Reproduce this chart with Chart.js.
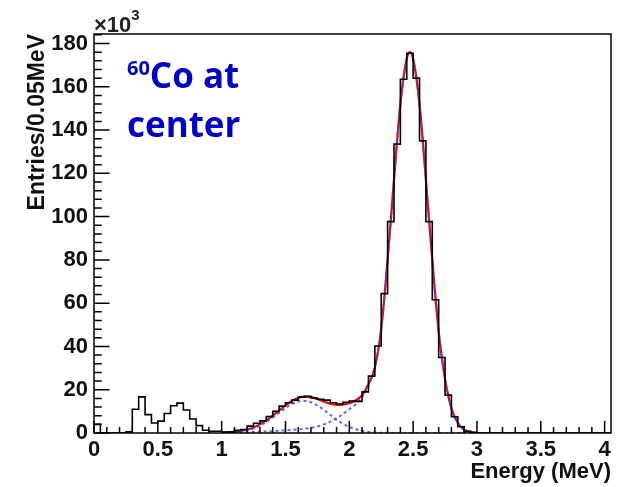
<!DOCTYPE html>
<html>
<head>
<meta charset="utf-8">
<script src="https://cdn.jsdelivr.net/npm/chart.js@4.4.1/dist/chart.umd.min.js"></script>
<style>
  html, body { margin: 0; padding: 0; background: #fff; }
  #wrap { width: 619px; height: 487px; }
</style>
</head>
<body>
<div id="wrap"><canvas id="spectrum"></canvas></div>
<script>
// 60Co source at detector center: energy spectrum (entries in units of 10^3)

const binWidth = 0.05; // MeV
const xMax = 4.05;
const yMax = 184.4;

// histogram contents, one value per 0.05 MeV bin starting at 0
const counts = [
  4, 0, 0, 0, 0, 0.5, 11, 16.7, 8.5, 4.6,
  5.5, 9, 12.6, 13.8, 10.6, 6.5, 3.4, 1.3, 0.8, 0.8,
  0.4, 0.6, 1.2, 1.6, 3.2, 4.5, 5.6, 7.6, 10, 12.4,
  14, 15.2, 16.6, 17, 16.2, 15.6, 15.2, 14, 13.4, 14.2,
  14.8, 14.6, 19, 26.3, 40.2, 64.4, 97.7, 133.5, 163.5, 175.5,
  164, 135, 97.7, 61.6, 34.9, 17.5, 7.5, 2.9, 0.8, 0.2,
  0, 0, 0, 0, 0, 0, 0, 0, 0, 0,
  0, 0, 0, 0, 0, 0, 0, 0, 0, 0,
  0
];

// fit curves
const fitEnergy = [
  1.00, 1.05, 1.10, 1.15, 1.20, 1.25, 1.30, 1.35, 1.40, 1.45,
  1.50, 1.55, 1.60, 1.65, 1.70, 1.75, 1.80, 1.85, 1.90, 1.95,
  2.00, 2.05, 2.10, 2.15, 2.20, 2.25, 2.30, 2.35, 2.40, 2.45,
  2.475, 2.50, 2.55, 2.60, 2.65, 2.70, 2.75, 2.80, 2.85, 2.90,
  2.95, 3.00
];
const fitTotal = [
  0.15, 0.3, 0.5, 0.95, 1.6, 2.55, 4.0, 5.85, 8.0, 10.35,
  12.75, 14.85, 16.2, 16.8, 16.6, 15.7, 14.6, 13.5, 13.0, 13.1,
  13.8, 15.0, 17.5, 22.5, 30.25, 48.1, 80, 117, 152, 173,
  176, 173, 152, 117, 80, 47, 25, 11.4, 4.6, 1.6,
  0.5, 0.1
];
const fitComptonEdge = [
  0.1, 0.2, 0.35, 0.7, 1.25, 2.1, 3.4, 5.1, 7.1, 9.3,
  11.5, 13.4, 14.5, 14.8, 14.2, 12.7, 10.7, 8.4, 6.2, 4.3,
  2.8, 1.7, 1.0, 0.5, 0.25, 0.12, 0.05, 0.02, 0, 0,
  0, 0, 0, 0, 0, 0, 0, 0, 0, 0,
  0, 0
];
const fitSumPeak = [
  0.05, 0.1, 0.15, 0.25, 0.35, 0.45, 0.6, 0.75, 0.9, 1.05,
  1.25, 1.45, 1.7, 2.0, 2.4, 3.0, 3.9, 5.1, 6.8, 8.8,
  11.0, 13.3, 16.5, 22, 30, 48, 80, 117, 152, 173,
  176, 173, 152, 117, 80, 47, 25, 11.4, 4.6, 1.6,
  0.5, 0.1
];

const xTickLabels = ['0', '0.5', '1', '1.5', '2', '2.5', '3', '3.5', '4'];
const yTickLabels = ['0', '20', '40', '60', '80', '100', '120', '140', '160', '180'];

const FONT = "'Liberation Sans', Arial, sans-serif";

function labelFor(list, value) {
  const hit = list.find(l => Math.abs(parseFloat(l) - value) < 1e-6);
  return hit === undefined ? '' : hit;
}

function curve(values) {
  return fitEnergy.map((e, i) => ({ x: e, y: values[i] }));
}

const histPoints = counts.map((c, i) => ({ x: i * binWidth, y: c }));
histPoints.push({ x: counts.length * binWidth, y: 0 });

// ROOT style frame, inward ticks, exponent and caption
const rootDecor = {
  id: 'rootDecor',
  afterDraw(chart) {
    const { ctx, chartArea: a, scales: { x, y } } = chart;
    ctx.save();
    ctx.strokeStyle = '#000';
    ctx.lineWidth = 1.5;
    ctx.strokeRect(a.left, a.top, a.right - a.left, a.bottom - a.top);

    ctx.beginPath();
    for (let i = 0; i <= 40; i++) {
      const px = x.getPixelForValue(i / 10);
      const len = i % 5 === 0 ? 12 : 6;
      ctx.moveTo(px, a.bottom);
      ctx.lineTo(px, a.bottom - len);
    }
    for (let i = 0; i * 4 <= yMax; i++) {
      const py = y.getPixelForValue(i * 4);
      const len = i % 5 === 0 ? 15.5 : 7.75;
      ctx.moveTo(a.left, py);
      ctx.lineTo(a.left + len, py);
    }
    ctx.stroke();

    // x10^3
    ctx.fillStyle = '#222';
    ctx.textBaseline = 'alphabetic';
    ctx.textAlign = 'left';
    ctx.font = 'bold 22px ' + FONT;
    ctx.fillText('\u00d710', a.left, 32);
    const w = ctx.measureText('\u00d710').width;
    ctx.font = 'bold 15px ' + FONT;
    ctx.fillText('3', a.left + w, 20);

    // source label
    ctx.fillStyle = '#0000c8';
    ctx.font = "bold 20px 'Open Sans', sans-serif";
    ctx.fillText('60', 127, 75);
    const sw = ctx.measureText('60').width;
    ctx.font = "bold 35px 'Open Sans', sans-serif";
    ctx.fillText('Co at', 127 + sw, 88);
    ctx.fillText('center', 127, 137);
    ctx.restore();
  }
};

const ctx = document.getElementById('spectrum').getContext('2d');
new Chart(ctx, {
  type: 'line',
  data: {
    datasets: [
      {
        label: 'data',
        data: histPoints,
        borderColor: '#000',
        borderWidth: 1.6,
        stepped: 'before',
        pointRadius: 0,
        fill: false,
        order: 0
      },
      {
        label: 'Compton component',
        data: curve(fitComptonEdge),
        borderColor: 'rgba(70, 70, 255, 0.85)',
        borderWidth: 2,
        borderDash: [3, 3],
        cubicInterpolationMode: 'monotone',
        pointRadius: 0,
        fill: false,
        order: 1
      },
      {
        label: 'sum peak component',
        data: curve(fitSumPeak),
        borderColor: 'rgba(70, 70, 255, 0.85)',
        borderWidth: 2,
        borderDash: [3, 3],
        cubicInterpolationMode: 'monotone',
        pointRadius: 0,
        fill: false,
        order: 1
      },
      {
        label: 'total fit',
        data: curve(fitTotal),
        borderColor: 'rgb(235, 0, 0)',
        borderWidth: 2.2,
        cubicInterpolationMode: 'monotone',
        pointRadius: 0,
        fill: false,
        order: 2
      }
    ]
  },
  options: {
    responsive: true,
    maintainAspectRatio: false,
    animation: false,
    devicePixelRatio: 1,
    layout: { padding: { top: 34, right: 8, left: 0, bottom: 0 } },
    plugins: {
      legend: { display: false },
      tooltip: { enabled: false }
    },
    scales: {
      x: {
        type: 'linear',
        min: 0,
        max: xMax,
        grid: { display: false, drawTicks: false },
        border: { display: false },
        ticks: {
          stepSize: 0.5,
          includeBounds: false,
          autoSkip: false,
          maxRotation: 0,
          padding: 4,
          color: '#111',
          font: { family: FONT, size: 22, weight: 'bold' },
          callback: v => labelFor(xTickLabels, v)
        },
        title: {
          display: true,
          text: 'Energy (MeV)',
          align: 'end',
          color: '#111',
          padding: { top: 0, bottom: 2 },
          font: { family: FONT, size: 22, weight: 'bold' }
        },
        afterFit: scale => { scale.height = 54; }
      },
      y: {
        type: 'linear',
        min: 0,
        max: yMax,
        grid: { display: false, drawTicks: false },
        border: { display: false },
        ticks: {
          stepSize: 20,
          includeBounds: false,
          padding: 6,
          color: '#111',
          font: { family: FONT, size: 22, weight: 'bold' },
          callback: v => labelFor(yTickLabels, v)
        },
        title: {
          display: true,
          text: 'Entries/0.05MeV',
          align: 'end',
          color: '#111',
          padding: { top: 24, bottom: 0 },
          font: { family: FONT, size: 23, weight: 'bold' }
        },
        afterFit: scale => { scale.width = 94; }
      }
    }
  },
  plugins: [rootDecor]
});
</script>
</body>
</html>
